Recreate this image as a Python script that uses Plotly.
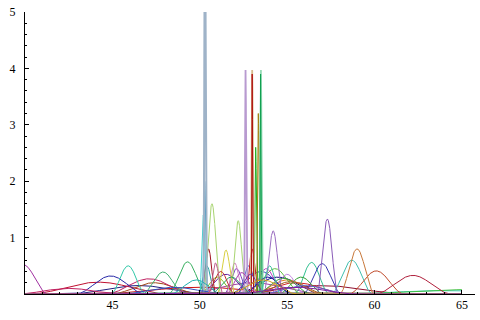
import numpy as np
import plotly.graph_objects as go

# Bump parameters: centre (x), peak height, half-width, colour, line width
centers = [46.5, 44.2, 50.0, 53.0, 57.0, 64.0, 66.0, 54.5, 55.5, 53.5,
           47.4, 47.1, 44.9, 39.9, 47.9, 45.9, 49.3, 56.4, 57.0, 58.7,
           60.1, 62.2, 59.0, 55.0, 54.3, 53.8, 55.8, 51.5, 51.0, 52.1,
           52.0, 52.8, 50.4, 55.0, 50.5, 51.5, 53.0, 54.2, 57.3, 52.2,
           50.7, 50.2, 50.28, 53.2, 53.35, 52.62, 53.0, 53.5, 53.0, 53.48,
           50.3,
           42.5, 48.5, 51.8, 52.4, 53.9, 54.8, 55.2, 56.0, 51.2, 49.8,
           52.9, 54.0, 50.9, 53.6, 55.5, 48.0]
heights = [0.15, 0.21, 0.12, 0.2, 0.15, 0.06, 0.08, 0.3, 0.2, 0.4,
           0.2, 0.27, 0.32, 0.52, 0.39, 0.5, 0.57, 0.56, 0.54, 0.6,
           0.41, 0.33, 0.8, 0.25, 0.45, 0.45, 0.3, 0.35, 0.3, 0.45,
           0.55, 0.5, 0.5, 0.35, 0.8, 0.78, 0.8, 1.12, 1.33, 1.3,
           1.6, 1.4, 2.0, 2.6, 3.2, 3.97, 3.97, 3.97, 3.9, 3.9,
           8.0,
           0.1, 0.12, 0.3, 0.38, 0.3, 0.28, 0.22, 0.15, 0.4, 0.25,
           0.35, 0.5, 0.55, 0.25, 0.12, 0.08]
widths = [4.0, 4.0, 6.0, 4.0, 5.0, 6.0, 8.0, 2.5, 3.0, 1.8,
          2.5, 2.5, 2.0, 1.4, 1.2, 1.0, 1.1, 1.0, 1.1, 1.2,
          1.6, 2.2, 1.0, 2.0, 1.5, 1.0, 1.3, 1.5, 1.0, 0.7,
          0.5, 0.6, 0.5, 1.0, 0.4, 0.5, 0.35, 0.55, 0.6, 0.45,
          0.5, 0.2, 0.12, 0.1, 0.1, 0.08, 0.08, 0.08, 0.05, 0.05,
          0.08,
          3.0, 3.0, 1.2, 0.9, 1.4, 1.6, 2.0, 2.5, 0.8, 1.5,
          0.8, 0.6, 0.4, 2.0, 3.5, 4.0]
colors = ["#202080", "#c01030", "#d01010", "#a040a0", "#901030", "#40c8c8", "#40c040", "#101080", "#d02020", "#3030c0",
          "#a04818", "#c02060", "#2828a8", "#a030a0", "#40b070", "#30c8a8", "#38b060", "#30c090", "#3838b0", "#40c0b0",
          "#c04a2a", "#b0203c", "#c8783a", "#e08020", "#60c040", "#c040c0", "#30a030", "#6020a0", "#80c020", "#8040c0",
          "#d080c0", "#4060d0", "#20a0a0", "#c080e0", "#a01020", "#d8d040", "#c02020", "#9a6cc0", "#8a5cb8", "#a8d470",
          "#a8d470", "#40d0d0", "#2090c0", "#20b020", "#a08010", "#b89ad0", "#d8bc8c", "#98dcb8", "#b01010", "#10a050",
          "#9fb3c8",
          "#c02060", "#3050c0", "#20a060", "#b040b0", "#2020a0", "#40a040", "#a06020", "#6060d0", "#c03030", "#20b0b0",
          "#7030a0", "#40c0a0", "#c06090", "#d0a020", "#8020a0", "#30a070"]
line_widths = [1] * 45 + [1.8, 1.8, 1.8, 1, 1, 2] + [1] * 15

x_ticks = [45, 50, 55, 60, 65]
y_ticks = [1, 2, 3, 4, 5]

xs = np.linspace(40, 65, 5001)

fig = go.Figure()
for c, h, w, col, lw in zip(centers, heights, widths, colors, line_widths):
    u = (xs - c) / w
    ys = np.where(np.abs(u) < 1, h * np.cos(np.pi / 2 * u) ** 2, 0.0)
    fig.add_trace(go.Scatter(x=xs, y=ys, mode="lines",
                             line=dict(color=col, width=lw),
                             hoverinfo="skip", showlegend=False))

font = dict(family="'Liberation Serif', 'Times New Roman', serif", size=12, color="black")
fig.update_layout(
    width=480, height=320,
    margin=dict(l=25, r=5, t=10, b=26),
    paper_bgcolor="white", plot_bgcolor="white",
    showlegend=False,
    font=font,
    xaxis=dict(range=[40, 65.75], tickvals=x_ticks, ticktext=[str(v) for v in x_ticks],
               showline=True, linecolor="black", linewidth=1, showgrid=False, zeroline=False,
               ticks="inside", ticklen=4, tickcolor="black",
               minor=dict(dtick=1, ticks="inside", ticklen=2, tickcolor="black"),
               tickfont=font),
    yaxis=dict(range=[0, 5], tickvals=y_ticks, ticktext=[str(v) for v in y_ticks],
               showline=True, linecolor="black", linewidth=1, showgrid=False, zeroline=False,
               ticks="inside", ticklen=4, tickcolor="black", ticklabelstandoff=6,
               minor=dict(dtick=0.2, ticks="inside", ticklen=2, tickcolor="black"),
               tickfont=font),
)

fig.write_html("out.html")
